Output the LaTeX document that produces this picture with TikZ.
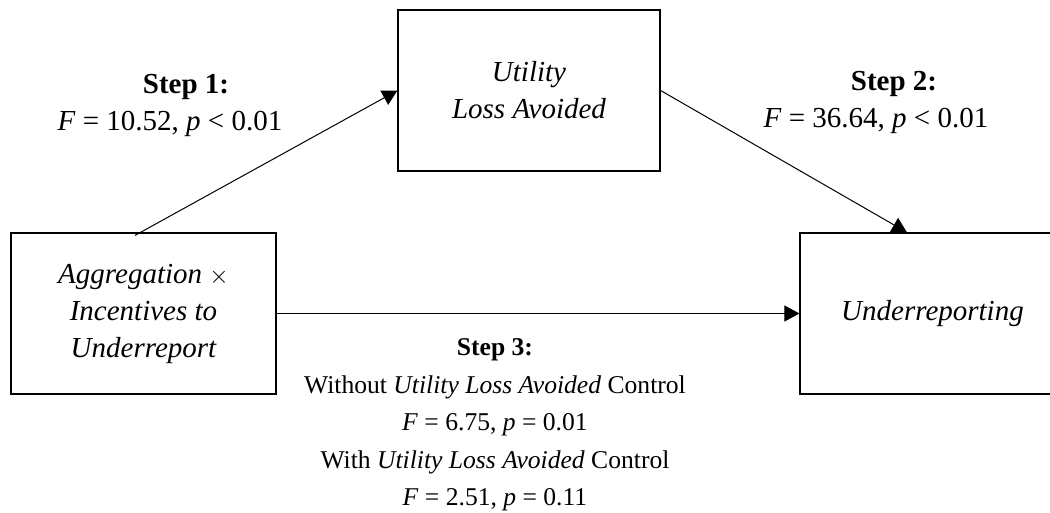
\documentclass[tikz,border=0pt]{standalone}
\usepackage{fontspec}
\setmainfont{Liberation Serif}
\usetikzlibrary{arrows.meta}
\begin{document}
\begin{tikzpicture}[x=1pt,y=-1pt,
  box/.style={draw,line width=1.2pt,minimum width=265pt,minimum height=161pt,inner sep=0pt,align=center,font=\fontsize{29}{37}\selectfont\itshape},
  lbl/.style={align=center,inner sep=0pt,font=\fontsize{29}{37}\selectfont},
  conn/.style={line width=1pt,-{Triangle[length=15pt,width=16pt]}}]
\useasboundingbox (0,0) rectangle (1050,512);
\clip (0,0) rectangle (1050,512);
\node[box] (agg) at (143.5,313.5) {Aggregation $\times$\\Incentives to\\Underreport};
\node[box,minimum width=262pt] (ula) at (529,90.5) {Utility\\Loss Avoided};
\node[box] (und) at (932.5,313.5) {Underreporting};
\node[lbl] (s1) at (170,105) {\hspace*{32pt}\textbf{Step 1:}\\\textit{F} = 10.52, \textit{p} < 0.01};
\node[lbl] (s2) at (876,102) {\hspace*{36pt}\textbf{Step 2:}\\\textit{F} = 36.64, \textit{p} < 0.01};
\node[lbl,font=\fontsize{25.6}{37.5}\selectfont] (s3) at (495,425) {\textbf{Step 3:}\\Without \textit{Utility Loss Avoided} Control\\\textit{F} = 6.75, \textit{p} = 0.01\\With \textit{Utility Loss Avoided} Control\\\textit{F} = 2.51, \textit{p} = 0.11};
\draw[conn] ([xshift=-8.5pt,yshift=-3pt]agg.north) -- (ula.west);
\draw[conn] (ula.east) -- ([xshift=-25.5pt]und.north);
\draw[conn] (agg.east) -- (und.west);
\end{tikzpicture}
\end{document}
